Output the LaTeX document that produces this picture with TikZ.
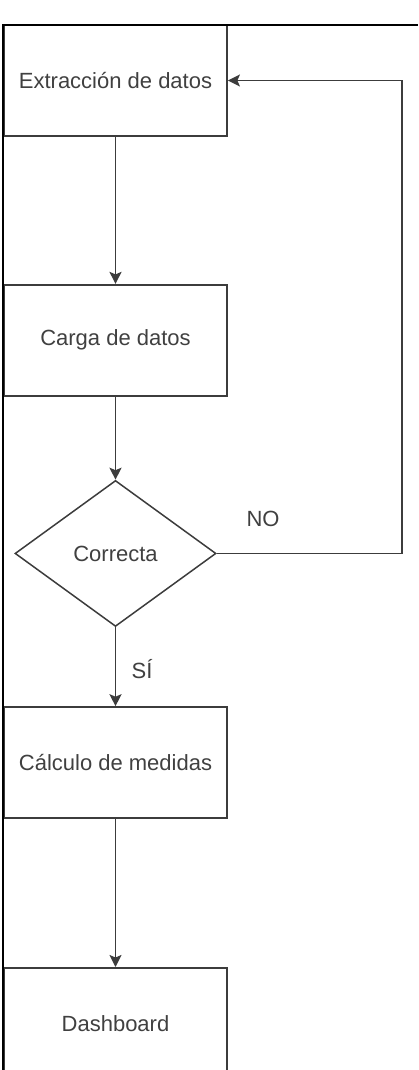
\documentclass[tikz,border=0pt]{standalone}
\usepackage{fontspec}
\setmainfont{Liberation Sans}
\usetikzlibrary{shapes.geometric,arrows.meta,positioning}
\definecolor{edgegray}{HTML}{3C3C3C}
\definecolor{textgray}{HTML}{404040}
\tikzset{
    block/.style={
        rectangle,
        draw=edgegray,
        line width=1.8pt,
        align=center,
        minimum width=223pt,
        minimum height=111pt,
        text=textgray,
        font=\fontsize{22pt}{26pt}\selectfont
    },
    decision/.style={
        diamond,
        draw=edgegray,
        line width=1.5pt,
        aspect=1.38,
        inner sep=0pt,
        minimum width=201pt,
        minimum height=146pt,
        text=textgray,
        font=\fontsize{22pt}{26pt}\selectfont
    },
    flow/.style={
        draw=edgegray,
        line width=1.8pt,
        -{Stealth[length=12pt,width=12pt,inset=2.5pt]}
    },
    label/.style={
        text=textgray,
        font=\fontsize{22pt}{26pt}\selectfont
    }
}

\begin{document}
\begin{tikzpicture}[x=1pt, y=1pt]
    \clip (0,0) rectangle (418,-1070);
    \node (extract) [block] at (115.5,-80.5) {Extracción de datos};
    \node (load) [block, below=147pt of extract] {Carga de datos};
    \node (check) [decision, below=83pt of load] {Correcta};
    \node (measures) [block, below=79pt of check] {Cálculo de medidas};
    \node (dashboard) [block, below=148pt of measures] {Dashboard};
    \coordinate (loop) at (402,0);

    \draw [flow] (extract) -- (load);
    \draw [flow] (load) -- (check);
    \draw [flow] (check) -- node [label, right, xshift=12pt, yshift=-2pt] {SÍ} (measures);
    \draw [flow] (measures) -- (dashboard);
    \draw [flow] (check.east) -- (check.east -| loop) -- (extract.east -| loop) -- (extract.east);
    \node (no) [label] at (263,-519) {NO};

    % frame of the screenshot
    \draw [line width=2.6pt] (3,-1070) -- (3,-25) -- (418,-25);
\end{tikzpicture}
\end{document}
